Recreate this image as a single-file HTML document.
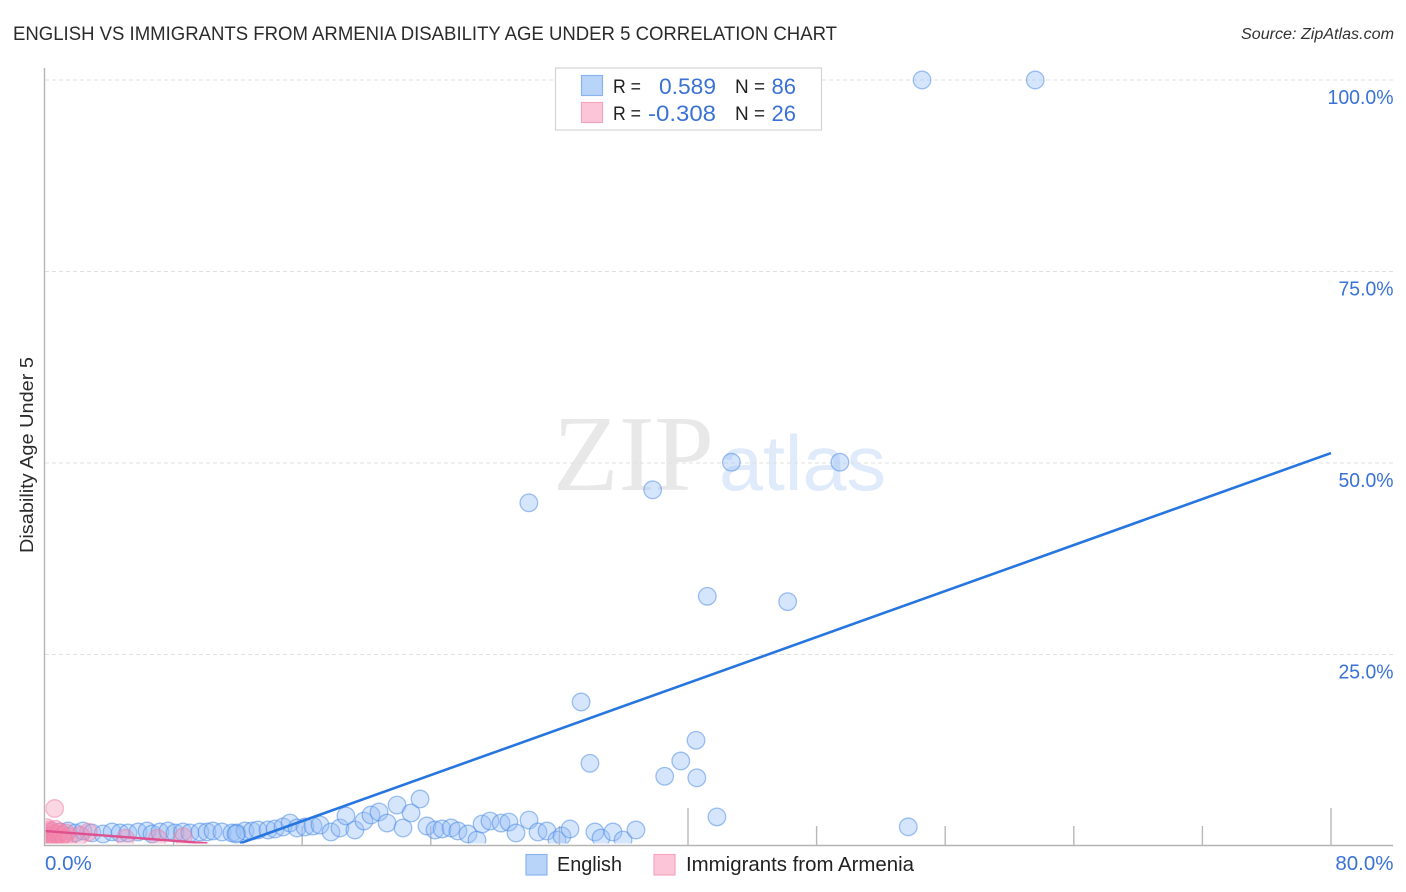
<!DOCTYPE html>
<html lang="en">
<head>
<meta charset="utf-8">
<title>English vs Immigrants from Armenia Disability Age Under 5 Correlation Chart</title>
<style>
html,body{margin:0;padding:0;background:#fff;}
svg{display:block;font-family:"Liberation Sans",sans-serif;}
</style>
</head>
<body>
<svg id="chart" xmlns="http://www.w3.org/2000/svg" width="1406" height="892" viewBox="0 0 1406 892">
  <defs>
    <clipPath id="plot-clip"><rect x="45.5" y="0" width="1360" height="843.5"/></clipPath>
  </defs>
  <rect x="0" y="0" width="1406" height="892" fill="#ffffff"/>
  <text x="13" y="40" font-size="19" fill="#2b2b2b" textLength="824" lengthAdjust="spacingAndGlyphs">ENGLISH VS IMMIGRANTS FROM ARMENIA DISABILITY AGE UNDER 5 CORRELATION CHART</text>
  <text x="1241" y="39" font-size="15.5" font-style="italic" fill="#333333" textLength="153" lengthAdjust="spacingAndGlyphs">Source: ZipAtlas.com</text>
  <text x="553" y="490" font-size="108" fill="#e8e8e8" style="font-family:'Liberation Serif',serif" textLength="161" lengthAdjust="spacingAndGlyphs">ZIP</text>
  <text x="719" y="490" font-size="78" fill="#dfeafa" style="font-family:'Liberation Sans',sans-serif" textLength="167" lengthAdjust="spacingAndGlyphs">atlas</text>
  <g id="grid"></g>
  <g id="x-ticks"></g>
  <line x1="44.5" y1="68" x2="44.5" y2="846" stroke="#b4b4b4" stroke-width="1.4"/>
  <line x1="44" y1="845.5" x2="1393" y2="845.5" stroke="#b4b4b4" stroke-width="1.4"/>
  <g clip-path="url(#plot-clip)">
    <g id="english-points"></g>
    <g id="armenia-points"></g>
    <line id="english-trend" stroke="#2776e0" stroke-width="2.6"/>
    <line id="armenia-trend" stroke="#e0508f" stroke-width="2.4"/>
  </g>
  <g id="y-labels"></g>
  <g id="x-labels"></g>
  <text transform="translate(33,553) rotate(-90)" font-size="18.5" fill="#2b2b2b" textLength="196" lengthAdjust="spacingAndGlyphs">Disability Age Under 5</text>

  <g>
    <rect x="555.5" y="68" width="266" height="62" fill="#ffffff" stroke="#d4d4d4" stroke-width="1.2"/>
    <rect x="581.5" y="75.5" width="21" height="20" fill="#b8d4f8" stroke="#8ab4ee" stroke-width="1.2"/>
    <rect x="581.5" y="102.5" width="21" height="20" fill="#fcc6d8" stroke="#f5a5c0" stroke-width="1.2"/>
    <text x="613" y="93" font-size="19.5" fill="#222222" textLength="28" lengthAdjust="spacingAndGlyphs">R =</text>
    <text x="659" y="94" font-size="22" fill="#3a72d6" textLength="57" lengthAdjust="spacingAndGlyphs">0.589</text>
    <text x="735" y="93" font-size="19.5" fill="#222222" textLength="30" lengthAdjust="spacingAndGlyphs">N =</text>
    <text x="796" y="94" font-size="22" fill="#3a72d6" text-anchor="end">86</text>
    <text x="613" y="120" font-size="19.5" fill="#222222" textLength="28" lengthAdjust="spacingAndGlyphs">R =</text>
    <text x="648" y="121" font-size="22" fill="#3a72d6" textLength="68" lengthAdjust="spacingAndGlyphs">-0.308</text>
    <text x="735" y="120" font-size="19.5" fill="#222222" textLength="30" lengthAdjust="spacingAndGlyphs">N =</text>
    <text x="796" y="121" font-size="22" fill="#3a72d6" text-anchor="end">26</text>
  </g>

  <g>
    <rect x="526" y="854.5" width="21" height="20.5" fill="#b8d4f8" stroke="#8ab4ee" stroke-width="1.2"/>
    <text x="557" y="871" font-size="20" fill="#222222" textLength="65" lengthAdjust="spacingAndGlyphs">English</text>
    <rect x="654" y="854.5" width="21" height="20.5" fill="#fcc6d8" stroke="#f5a5c0" stroke-width="1.2"/>
    <text x="686" y="871" font-size="20" fill="#222222" textLength="228" lengthAdjust="spacingAndGlyphs">Immigrants from Armenia</text>
  </g>
</svg>
<script>
const englishX = [54.56,61.6,42.7,49.45,30.1,37.8,41.2,46.2,33.35,40.5,33.9,39.55,38.55,40.55,41.8,53.7,
  0.93,1.43,1.87,2.36,2.92,3.61,4.17,4.67,5.16,5.79,6.35,6.66,7.15,7.65,8.09,8.58,9.02,9.64,10.08,10.45,11.01,11.63,11.94,12.44,12.88,13.25,13.87,14.31,14.81,15.24,15.68,11.88,16.17,16.67,
  17.11,17.79,18.35,18.72,19.28,19.84,20.28,20.78,21.28,21.9,22.27,22.77,23.33,23.76,24.26,24.7,25.26,25.69,26.31,26.87,27.19,27.68,28.37,28.86,29.3,30.11,30.67,31.23,31.85,32.16,32.66,34.21,34.59,35.33,35.96,36.76];
const englishY = [100,100,50.1,50.1,44.8,46.5,32.6,31.9,18.8,13.8,10.8,11.1,9.1,8.9,3.8,2.5,
  1.83,1.96,1.7,1.96,1.7,1.57,1.83,1.7,1.7,1.83,1.96,1.57,1.83,1.96,1.7,1.83,1.7,1.83,1.83,1.96,1.83,1.7,1.7,1.96,1.96,2.09,2.09,2.22,2.48,3.0,2.35,1.57,2.48,2.61,
  2.74,1.83,2.35,3.92,2.09,3.26,4.05,4.44,3.0,5.35,2.35,4.31,6.14,2.61,2.09,2.22,2.35,1.96,1.57,0.78,2.87,3.26,3.0,3.13,1.7,3.39,1.83,1.96,0.78,1.31,2.22,1.83,1.04,1.83,0.78,2.09];
const armeniaX = [0.6,0.1,0.15,0.2,0.25,0.3,0.35,0.4,0.45,0.5,0.55,0.6,0.65,0.7,0.8,0.9,1.0,1.1,1.2,1.3,1.5,2.2,2.7,5.0,7.0,8.6];
const armeniaY = [4.9,2.4,1.2,1.8,0.9,2.1,1.4,1.0,1.9,1.3,0.8,1.6,2.2,1.1,1.5,1.8,1.0,1.4,0.9,1.7,1.2,1.4,1.8,1.0,1.0,1.2];
const englishTrendX = [12.13,80];
const englishTrendY = [0.35,51.3];
const armeniaTrendX = [0,10.1];
const armeniaTrendY = [1.95,0.35];
const yTicks = [25,50,75,100];
const yTickLabels = ["25.0%","50.0%","75.0%","100.0%"];
const xTicks = [8,16,24,32,40,48,56,64,72,80];
const xEndTicks = [0,80];
const xEndLabels = ["0.0%","80.0%"];

const NS = "http://www.w3.org/2000/svg";
function sx(v){ return 45 + v * 16.075; }
function sy(v){ return 846 - v * 7.66; }
function make(tag, attrs, parent){
  const el = document.createElementNS(NS, tag);
  for (const k in attrs) el.setAttribute(k, attrs[k]);
  parent.appendChild(el);
  return el;
}

const gridG = document.getElementById("grid");
const yLabG = document.getElementById("y-labels");
yTicks.forEach(function(v, i){
  const g = make("line", {x1:45, x2:1393, y1:sy(v), y2:sy(v), stroke:"#e0e0e0", "stroke-width":1, "stroke-dasharray":"4 3"}, gridG);
  
  
  const w = yTickLabels[i].length * 11;
  const t = make("text", {x:1393.5 - w, y:sy(v)+24, "font-size":20.5, fill:"#3a72d6", textLength:w, lengthAdjust:"spacingAndGlyphs"}, yLabG);
  t.textContent = yTickLabels[i];
  
  
});

const tickG = document.getElementById("x-ticks");
xTicks.forEach(function(v){
  const top = (v % 40 === 0) ? 808 : 826;
  const l = make("line", {x1:sx(v), x2:sx(v), y1:top, y2:846, stroke:"#b8b8b8", "stroke-width":1.4}, tickG);
  
  
});

const xLabG = document.getElementById("x-labels");
xEndTicks.forEach(function(v, i){
  const anchorEnd = i === 1;
  const t = make("text", {x: anchorEnd ? 1393.5 : sx(v), y:870, "font-size":20.5, fill:"#3a72d6", "text-anchor": anchorEnd ? "end" : "start"}, xLabG);
  t.textContent = xEndLabels[i];
  
  
});

const engG = document.getElementById("english-points");
englishX.forEach(function(v, i){
  const c = make("circle", {cx:sx(v), cy:sy(englishY[i]), r:8.8, fill:"rgba(150,190,245,0.4)", stroke:"rgba(70,135,230,0.5)", "stroke-width":1.3}, engG);
  
  
});

const armG = document.getElementById("armenia-points");
armeniaX.forEach(function(v, i){
  const c = make("circle", {cx:sx(v), cy:sy(armeniaY[i]), r:8.8, fill:"rgba(245,140,178,0.36)", stroke:"rgba(240,125,165,0.5)", "stroke-width":1.3}, armG);
  
  
});

function placeLine(id, xs, ys){
  const l = document.getElementById(id);
  l.setAttribute("x1", sx(xs[0]));
  l.setAttribute("y1", sy(ys[0]));
  l.setAttribute("x2", sx(xs[1]));
  l.setAttribute("y2", sy(ys[1]));
}
placeLine("english-trend", englishTrendX, englishTrendY);
placeLine("armenia-trend", armeniaTrendX, armeniaTrendY);
</script>
</body>
</html>
